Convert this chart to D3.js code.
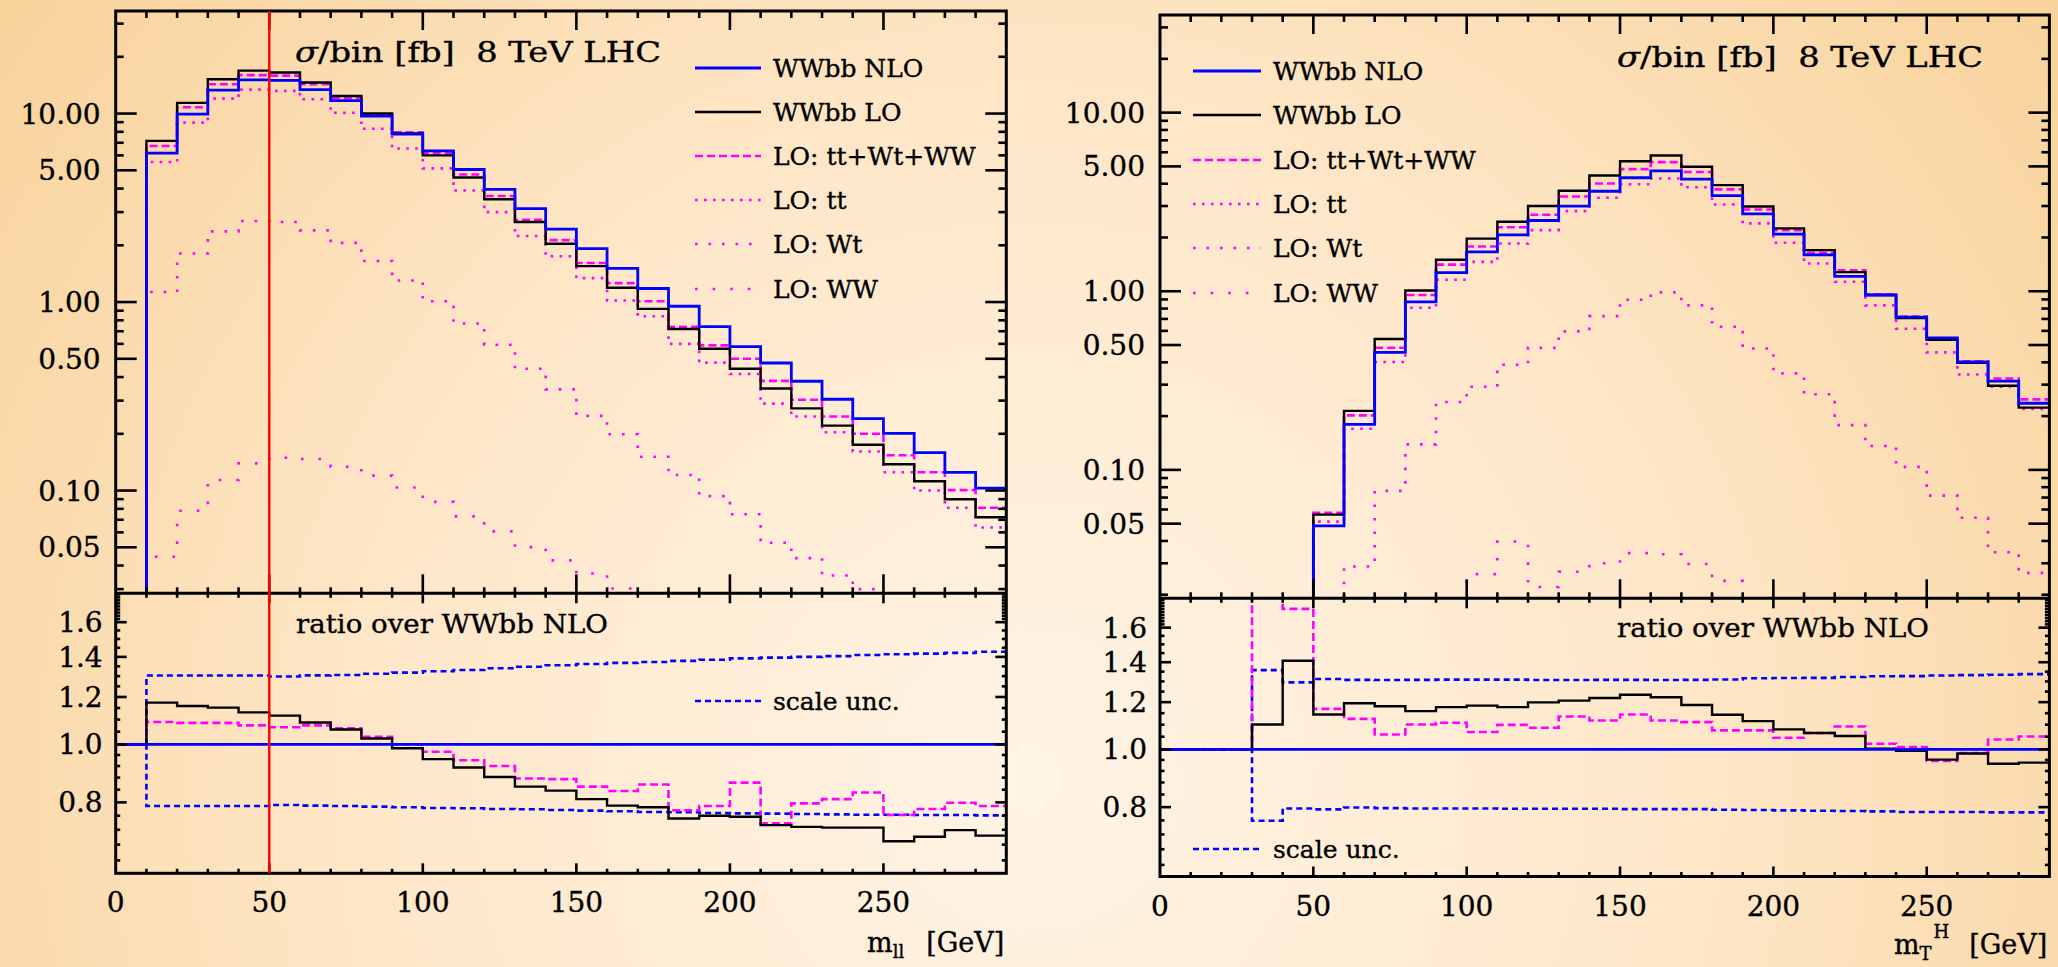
<!DOCTYPE html>
<html>
<head>
<meta charset="utf-8">
<script src="https://cdn.jsdelivr.net/npm/d3@7"></script>
<style>
html, body { margin: 0; padding: 0; background: #fff; }
svg { display: block; }
text { font-family: "DejaVu Serif", "Liberation Serif", serif; fill: #000; stroke: #000; stroke-width: 0.35; white-space: pre; }
</style>
</head>
<body>
<svg id="chart" width="2058" height="967"></svg>
<script>
// ---- data (10 GeV bins) ----
const binWidth = 10;
const xMax = 290;
const xTickLabels = [0, 50, 100, 150, 200, 250];
const upperTickLabels = [0.05, 0.1, 0.5, 1, 5, 10];
const ratioTickLabels = [0.8, 1.0, 1.2, 1.4, 1.6];
const ratioMinorTicks = [0.64, 0.68, 0.72, 0.76, 0.84, 0.88, 0.92, 0.96, 1.05, 1.1, 1.15, 1.25, 1.3, 1.35,
  1.45, 1.5, 1.55, 1.62, 1.64, 1.66, 1.68, 1.70, 1.72, 1.74, 1.76, 1.78];
const legendLabels = ["WWbb NLO", "WWbb LO", "LO: tt+Wt+WW", "LO: tt", "LO: Wt", "LO: WW"];
const mllCut = 50;

// m_ll distribution, first filled bin starts at 10 GeV
const mllStart = 10;
const mllNLO = [6.16, 9.92, 13.3, 15.1, 15.0, 13.4, 11.7, 9.68, 7.78, 6.34, 5.05, 3.96, 3.13, 2.44, 1.92, 1.51,
  1.18, 0.95, 0.74, 0.58, 0.475, 0.38, 0.305, 0.241, 0.201, 0.159, 0.125, 0.103];
const mllLO = [7.16, 11.4, 15.2, 16.9, 16.5, 14.6, 12.4, 10.0, 7.85, 6.0, 4.58, 3.51, 2.66, 2.04, 1.55, 1.19,
  0.92, 0.72, 0.565, 0.443, 0.348, 0.273, 0.221, 0.175, 0.138, 0.112, 0.0899, 0.0722];
const mllSum = [6.73, 10.8, 14.3, 16.0, 15.9, 14.3, 12.1, 9.9, 7.96, 6.17, 4.75, 3.65, 2.73, 2.13, 1.61, 1.26,
  1.01, 0.74, 0.589, 0.500, 0.382, 0.303, 0.247, 0.200, 0.154, 0.125, 0.1005, 0.081];
const mllTT = [5.53, 8.95, 12.0, 13.4, 13.2, 11.9, 10.1, 8.3, 6.52, 5.12, 3.91, 3.0, 2.24, 1.75, 1.34, 1.02,
  0.84, 0.60, 0.477, 0.415, 0.289, 0.247, 0.204, 0.161, 0.125, 0.100, 0.081, 0.0637];
const mllWt = [1.13, 1.81, 2.37, 2.69, 2.66, 2.40, 2.06, 1.65, 1.30, 1.01, 0.77, 0.594, 0.443, 0.344, 0.249,
  0.199, 0.151, 0.121, 0.0934, 0.0748, 0.0528, 0.0438, 0.0354, 0.030, 0.024];
const mllWW = [0.0445, 0.0781, 0.1138, 0.1394, 0.1493, 0.147, 0.1337, 0.120, 0.1037, 0.0871, 0.0729, 0.0607,
  0.0501, 0.0426, 0.0363, 0.0302, 0.026];
// ratios over WWbb NLO, from 0 GeV
const mllRatioLO = [1.0, 1.174, 1.159, 1.152, 1.131, 1.117, 1.088, 1.059, 1.023, 0.985, 0.945, 0.915, 0.882,
  0.850, 0.837, 0.81, 0.79, 0.785, 0.752, 0.76, 0.757, 0.733, 0.728, 0.726, 0.726, 0.689, 0.701, 0.719, 0.704];
const mllRatioSum = [1.0, 1.090, 1.086, 1.086, 1.076, 1.068, 1.076, 1.064, 1.030, 1.0, 0.972, 0.941, 0.920,
  0.877, 0.875, 0.85, 0.836, 0.857, 0.776, 0.789, 0.863, 0.738, 0.797, 0.81, 0.831, 0.762, 0.78, 0.799, 0.789];
const mllScaleUp = [1.0, 1.303, 1.303, 1.303, 1.303, 1.298, 1.304, 1.306, 1.312, 1.318, 1.325, 1.331, 1.34,
  1.348, 1.356, 1.362, 1.368, 1.373, 1.379, 1.385, 1.392, 1.396, 1.4, 1.404, 1.41, 1.414, 1.418, 1.422, 1.428];
const mllScaleDown = [1.0, 0.789, 0.789, 0.789, 0.789, 0.792, 0.790, 0.789, 0.787, 0.785, 0.783, 0.782, 0.780,
  0.779, 0.777, 0.775, 0.773, 0.771, 0.77, 0.768, 0.767, 0.766, 0.765, 0.764, 0.763, 0.763, 0.762, 0.762, 0.761];

// m_T^H distribution
const mtStart = 50;
const mtWtStart = 60;
const mtWWStart = 100;
const mtNLO = [0.0486, 0.180, 0.455, 0.871, 1.27, 1.66, 2.07, 2.49, 3.0, 3.63, 4.32, 4.72, 4.24, 3.43, 2.71,
  2.09, 1.60, 1.21, 0.953, 0.716, 0.548, 0.402, 0.314, 0.236];
const mtLO = [0.0562, 0.214, 0.540, 1.01, 1.50, 1.97, 2.45, 3.0, 3.65, 4.45, 5.34, 5.75, 4.98, 3.93, 2.98,
  2.25, 1.70, 1.28, 0.953, 0.709, 0.535, 0.398, 0.296, 0.223];
const mtSum = [0.0575, 0.202, 0.483, 0.953, 1.41, 1.78, 2.28, 2.68, 3.39, 4.01, 4.83, 5.28, 4.65, 3.72, 2.87,
  2.2, 1.64, 1.31, 0.961, 0.722, 0.54, 0.406, 0.325, 0.248];
const mtTT = [0.0513, 0.170, 0.402, 0.809, 1.16, 1.46, 1.85, 2.2, 2.81, 3.34, 3.97, 4.28, 3.82, 3.06, 2.40,
  1.87, 1.43, 1.13, 0.834, 0.617, 0.455, 0.342, 0.292, 0.219];
const mtWt = [0.0288, 0.0763, 0.139, 0.240, 0.292, 0.388, 0.482, 0.596, 0.726, 0.897, 0.985, 0.834, 0.633,
  0.478, 0.347, 0.265, 0.178, 0.136, 0.104, 0.0718, 0.0539, 0.0346, 0.0265];
const mtWW = [0.0261, 0.0397, 0.0221, 0.0269, 0.0300, 0.0342, 0.0337, 0.0297, 0.0239, 0.017];
const mtRatioLO = [1, 1, 1, 1.101, 1.408, 1.144, 1.195, 1.181, 1.159, 1.177, 1.184, 1.177, 1.199, 1.207, 1.219,
  1.235, 1.223, 1.187, 1.143, 1.115, 1.080, 1.065, 1.053, 1.003, 0.994, 0.961, 0.984, 0.946, 0.950];
const mtRatioSum = [1, 1, 1, 2.0, 1.72, 1.169, 1.125, 1.059, 1.101, 1.108, 1.069, 1.099, 1.087, 1.135, 1.118,
  1.144, 1.118, 1.111, 1.076, 1.076, 1.046, 1.065, 1.092, 1.022, 1.009, 0.956, 0.986, 1.039, 1.051];
const mtScaleUp = [1, 1, 1, 1.358, 1.295, 1.312, 1.308, 1.307, 1.308, 1.309, 1.309, 1.309, 1.307, 1.307, 1.308,
  1.308, 1.307, 1.308, 1.31, 1.316, 1.317, 1.318, 1.322, 1.326, 1.327, 1.33, 1.332, 1.334, 1.337];
const mtScaleDown = [1, 1, 1, 0.759, 0.796, 0.793, 0.799, 0.797, 0.796, 0.796, 0.796, 0.795, 0.795, 0.795,
  0.795, 0.794, 0.794, 0.794, 0.792, 0.791, 0.790, 0.789, 0.788, 0.787, 0.785, 0.785, 0.785, 0.784, 0.784];

// ---- styles ----
const styles = {
  nlo: { stroke: "#0000ff", width: 2.8, dash: null },
  lo: { stroke: "#000000", width: 2.4, dash: null },
  sum: { stroke: "#ff00ff", width: 2.6, dash: "8,4" },
  tt: { stroke: "#ff00ff", width: 2.6, dash: "2.6,6.4" },
  wt: { stroke: "#ff00ff", width: 2.6, dash: "2.6,10.9" },
  ww: { stroke: "#ff00ff", width: 2.6, dash: "2.6,15" },
  scale: { stroke: "#0000ff", width: 2.6, dash: "6,4" }
};
const legendKeys = ["nlo", "lo", "sum", "tt", "wt", "ww"];

const svg = d3.select("#chart");
const defs = svg.append("defs");
const grad = defs.append("radialGradient").attr("id", "bg")
  .attr("gradientUnits", "userSpaceOnUse")
  .attr("cx", 1029).attr("cy", 780).attr("r", 1300);
grad.append("stop").attr("offset", 0).attr("stop-color", "#fff4e6");
grad.append("stop").attr("offset", 0.5).attr("stop-color", "#fee7c9");
grad.append("stop").attr("offset", 1).attr("stop-color", "#f8d29a");
svg.append("rect").attr("width", 2058).attr("height", 967).attr("fill", "url(#bg)");

function stepPoints(start, vals, floorVal) {
  const pts = [];
  if (floorVal !== undefined) pts.push([start, floorVal]);
  vals.forEach((v, i) => pts.push([start + i * binWidth, v]));
  pts.push([start + vals.length * binWidth, vals[vals.length - 1]]);
  return pts;
}

function drawPath(g, x, y, pts, st) {
  const line = d3.line().x(d => x(d[0])).y(d => y(d[1])).curve(d3.curveStepAfter);
  const p = g.append("path").attr("d", line(pts))
    .attr("fill", "none").attr("stroke", st.stroke).attr("stroke-width", st.width);
  if (st.dash) p.attr("stroke-dasharray", st.dash);
  return p;
}

function legendRow(g, x1, x2, yRow, key, label) {
  const st = styles[key];
  const l = g.append("line").attr("x1", x1).attr("x2", x2).attr("y1", yRow).attr("y2", yRow)
    .attr("stroke", st.stroke).attr("stroke-width", st.width);
  if (st.dash) l.attr("stroke-dasharray", st.dash);
  g.append("text").attr("x", x2 + 12).attr("y", yRow + 9).attr("font-size", 25).text(label);
}

let clipId = 0;
function drawPanel(p) {
  const g = svg.append("g");
  const x = d3.scaleLinear().domain([0, xMax]).range([p.x0, p.x1]);
  const yU = d3.scaleLog().domain(p.upDomain).range([p.mid, p.top]);
  const yR = d3.scaleLog().domain(p.ratDomain).range([p.bot, p.mid]);

  const cu = "clip" + (clipId++), cl = "clip" + (clipId++);
  defs.append("clipPath").attr("id", cu).append("rect")
    .attr("x", p.x0).attr("y", p.top).attr("width", p.x1 - p.x0).attr("height", p.mid - p.top);
  defs.append("clipPath").attr("id", cl).append("rect")
    .attr("x", p.x0).attr("y", p.mid).attr("width", p.x1 - p.x0).attr("height", p.bot - p.mid);

  // upper histograms
  const gu = g.append("g").attr("clip-path", `url(#${cu})`);
  const floorU = p.upDomain[0] / 4;
  p.upper.forEach(s => drawPath(gu, x, yU, stepPoints(s.start, s.vals, floorU), styles[s.key]));

  // ratio panel
  const gl = g.append("g").attr("clip-path", `url(#${cl})`);
  drawPath(gl, x, yR, stepPoints(0, p.scaleUp), styles.scale);
  drawPath(gl, x, yR, stepPoints(0, p.scaleDown), styles.scale);
  drawPath(gl, x, yR, stepPoints(0, p.ratioSum), styles.sum);
  drawPath(gl, x, yR, stepPoints(0, p.ratioLO), styles.lo);
  gl.append("line").attr("x1", x(0)).attr("x2", x(xMax)).attr("y1", yR(1)).attr("y2", yR(1))
    .attr("stroke", styles.nlo.stroke).attr("stroke-width", 2.8);

  // frame and ticks
  const ga = g.append("g").attr("stroke", "#000").attr("stroke-width", 2.6).attr("fill", "none");
  const xMinor = d3.range(binWidth, xMax, binWidth);
  const xt = (yLine, dir, maj, min) => xMinor.forEach(v => {
    const len = v % 50 === 0 ? maj : min;
    ga.append("line").attr("x1", x(v)).attr("x2", x(v)).attr("y1", yLine).attr("y2", yLine + dir * len);
  });
  xt(p.top, 1, 19, 7);
  xt(p.mid, -1, 19, 6);
  xt(p.mid, 1, 10, 4.5);
  xt(p.bot, -1, 10, 4.5);

  const yt = (yy, len) => {
    ga.append("line").attr("x1", p.x0).attr("x2", p.x0 + len).attr("y1", yy).attr("y2", yy);
    ga.append("line").attr("x1", p.x1).attr("x2", p.x1 - len).attr("y1", yy).attr("y2", yy);
  };
  const upMinor = [];
  [0.01, 0.1, 1, 10].forEach(dec => [2, 3, 4, 6, 7, 8, 9].forEach(m => upMinor.push(dec * m)));
  upMinor.filter(v => v > p.upDomain[0] && v < p.upDomain[1]).forEach(v => yt(yU(v), 8));
  upperTickLabels.forEach(v => yt(yU(v), 21));
  ratioMinorTicks.filter(v => v > p.ratDomain[0] && v < p.ratDomain[1]).forEach(v => yt(yR(v), 4.5));
  ratioTickLabels.forEach(v => yt(yR(v), 11));

  ga.append("rect").attr("x", p.x0).attr("y", p.top).attr("width", p.x1 - p.x0).attr("height", p.bot - p.top)
    .attr("stroke-width", 3);
  ga.append("line").attr("x1", p.x0).attr("x2", p.x1).attr("y1", p.mid).attr("y2", p.mid).attr("stroke-width", 3);

  // tick labels
  const fmtU = d3.format(".2f"), fmtR = d3.format(".1f");
  upperTickLabels.forEach(v => g.append("text").attr("x", p.x0 - 15).attr("y", yU(v)).attr("dy", "0.36em")
    .attr("text-anchor", "end").attr("font-size", 28).text(fmtU(v)));
  ratioTickLabels.forEach(v => g.append("text").attr("x", p.x0 - 13).attr("y", yR(v)).attr("dy", "0.36em")
    .attr("text-anchor", "end").attr("font-size", 28).text(fmtR(v)));
  xTickLabels.forEach(v => g.append("text").attr("x", x(v)).attr("y", p.bot + 39)
    .attr("text-anchor", "middle").attr("font-size", 28).text(v));

  // cut line
  if (p.cut !== undefined) {
    g.append("line").attr("x1", x(p.cut)).attr("x2", x(p.cut)).attr("y1", p.top).attr("y2", p.bot)
      .attr("stroke", "#ff0000").attr("stroke-width", 2.4);
  }

  // titles
  const t = g.append("text").attr("x", p.titleX).attr("y", p.titleY).attr("font-size", 27)
    .attr("textLength", 366).attr("lengthAdjust", "spacingAndGlyphs");
  t.append("tspan").attr("font-style", "italic").text("σ");
  t.append("tspan").text("/bin [fb]  8 TeV LHC");

  g.append("text").attr("x", p.ratioX).attr("y", p.ratioY).attr("font-size", 26)
    .attr("textLength", 312).attr("lengthAdjust", "spacingAndGlyphs").text("ratio over WWbb NLO");

  // legends
  legendKeys.forEach((k, i) => legendRow(g, p.legX1, p.legX2, p.legY[i], k, legendLabels[i]));
  legendRow(g, p.legX1, p.legX2, p.scaleLegY, "scale", "scale unc.");

  // axis title
  const at = g.append("text").attr("x", p.x1 - 2).attr("y", p.bot + p.axisDy).attr("text-anchor", "end")
    .attr("font-size", 27);
  p.axisTitle(at);
}

drawPanel({
  x0: 115.7, x1: 1006.3, top: 11, mid: 593.3, bot: 873.3,
  upDomain: [0.0285, 35.0], ratDomain: [0.609, 1.788],
  upper: [
    { key: "ww", start: mllStart, vals: mllWW },
    { key: "wt", start: mllStart, vals: mllWt },
    { key: "tt", start: mllStart, vals: mllTT },
    { key: "sum", start: mllStart, vals: mllSum },
    { key: "lo", start: mllStart, vals: mllLO },
    { key: "nlo", start: mllStart, vals: mllNLO }
  ],
  ratioLO: mllRatioLO, ratioSum: mllRatioSum, scaleUp: mllScaleUp, scaleDown: mllScaleDown,
  cut: mllCut,
  titleX: 295, titleY: 62, ratioX: 296, ratioY: 633,
  legX1: 695, legX2: 761, legY: [68, 112, 156, 200, 244, 289], scaleLegY: 701,
  axisDy: 79,
  axisTitle: t => {
    t.append("tspan").text("m");
    t.append("tspan").attr("font-size", 18).attr("dy", 6).text("ll");
    t.append("tspan").attr("dy", -6).attr("dx", 22).text("[GeV]");
  }
});

drawPanel({
  x0: 1160, x1: 2049.4, top: 15, mid: 598.3, bot: 876.5,
  upDomain: [0.0191, 35.2], ratDomain: [0.612, 1.792],
  upper: [
    { key: "ww", start: mtWWStart, vals: mtWW },
    { key: "wt", start: mtWtStart, vals: mtWt },
    { key: "tt", start: mtStart, vals: mtTT },
    { key: "sum", start: mtStart, vals: mtSum },
    { key: "lo", start: mtStart, vals: mtLO },
    { key: "nlo", start: mtStart, vals: mtNLO }
  ],
  ratioLO: mtRatioLO, ratioSum: mtRatioSum, scaleUp: mtScaleUp, scaleDown: mtScaleDown,
  titleX: 1617, titleY: 67, ratioX: 1617, ratioY: 637,
  legX1: 1193, legX2: 1261, legY: [71, 115, 160, 204, 248, 293], scaleLegY: 849,
  axisDy: 77,
  axisTitle: t => {
    t.append("tspan").text("m");
    t.append("tspan").attr("font-size", 18).attr("dy", 6).text("T");
    t.append("tspan").attr("font-size", 18).attr("dy", -22).attr("dx", 2).text("H");
    t.append("tspan").attr("dy", 16).attr("dx", 20).text("[GeV]");
  }
});
</script>
</body>
</html>
